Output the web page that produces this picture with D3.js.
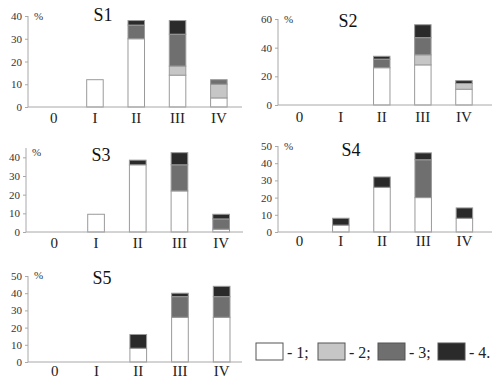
<!DOCTYPE html>
<html><head><meta charset="utf-8">
<script src="https://cdn.jsdelivr.net/npm/d3@7"></script>
<style>body{margin:0;background:#fff}svg{display:block}text{font-family:"Liberation Serif","Times New Roman",serif}</style>
</head><body><svg id="c" width="500" height="384"></svg>
<script>
const categories = ["0","I","II","III","IV"];
const panelNames = ["S1","S2","S3","S4","S5"];
const legendLabels = ["- 1;","- 2;","- 3;","- 4."];
const seriesColors = ["#ffffff","#c6c6c6","#6f6f6f","#2a2a2a"];
// series values per panel (c1..c4 stacked)
const S1_c1=[0,12,30,14,4], S1_c2=[0,0,0,4,6], S1_c3=[0,0,6,14,2], S1_c4=[0,0,2,6,0];
const S2_c1=[0,0,26,28,11], S2_c2=[0,0,0,7,4], S2_c3=[0,0,6,12,0], S2_c4=[0,0,2,9,2];
const S3_c1=[0,9.5,36,22,1.5], S3_c2=[0,0,0,0,0], S3_c3=[0,0,0,14,5.5], S3_c4=[0,0,2.5,6.5,2.5];
const S4_c1=[0,4,26,20,8], S4_c2=[0,0,0,0,0], S4_c3=[0,0,0,22,0], S4_c4=[0,4,6,4,6];
const S5_c1=[0,0,8,26,26], S5_c2=[0,0,0,0,0], S5_c3=[0,0,0,12,12], S5_c4=[0,0,8,2,6];
const S1_ticks=[0,10,20,30,40], S2_ticks=[0,20,40,60], S3_ticks=[0,10,20,30,40], S4_ticks=[0,10,20,30,40,50], S5_ticks=[0,10,20,30,40,50];
const yMax=[40,60,45,50,50];

const panelData=[
 {series:[S1_c1,S1_c2,S1_c3,S1_c4],ticks:S1_ticks},
 {series:[S2_c1,S2_c2,S2_c3,S2_c4],ticks:S2_ticks},
 {series:[S3_c1,S3_c2,S3_c3,S3_c4],ticks:S3_ticks},
 {series:[S4_c1,S4_c2,S4_c3,S4_c4],ticks:S4_ticks},
 {series:[S5_c1,S5_c2,S5_c3,S5_c4],ticks:S5_ticks}
];
// layout (pixels)
const layout=[
 {ax:28, axEnd:242, band:[33,239.5], y0:107, y1:16, titleX:103, titleY:21, pctY:20, labY:123},
 {ax:278, axEnd:492, band:[279,484.5], y0:105, y1:19, titleX:348, titleY:27, pctY:23, labY:122},
 {ax:26, axEnd:243, band:[33.5,242], y0:232, y1:148, titleX:101, titleY:161, pctY:156, labY:248},
 {ax:278, axEnd:492, band:[279,485], y0:232, y1:146, titleX:351, titleY:156, pctY:150, labY:246},
 {ax:28, axEnd:242, band:[34,242.5], y0:362, y1:276, titleX:102, titleY:284, pctY:279, labY:376}
];

const svg=d3.select("#c");
const axisCol="#a8a8a8", barStroke="#9a9a9a";

panelData.forEach((p,i)=>{
  const L=layout[i];
  const g=svg.append("g");
  const x=d3.scaleBand().domain(categories).range(L.band).paddingInner(0.6).paddingOuter(0.3);
  const y=d3.scaleLinear().domain([0,yMax[i]]).range([L.y0,L.y1]);
  const rows=categories.map((c,k)=>{const o={cat:c};p.series.forEach((s,j)=>o["s"+j]=s[k]);return o;});
  const stack=d3.stack().keys(["s0","s1","s2","s3"])(rows);
  stack.forEach((layer,j)=>{
    g.selectAll(null).data(layer.filter(d=>d[1]-d[0]>0)).enter().append("rect")
      .attr("x",d=>x(d.data.cat)).attr("width",x.bandwidth())
      .attr("y",d=>y(d[1])).attr("height",d=>y(d[0])-y(d[1]))
      .attr("fill",seriesColors[j]).attr("stroke",barStroke).attr("stroke-width",1);
  });
  // y axis
  const ya=g.append("g").attr("transform",`translate(${L.ax},0)`)
    .call(d3.axisLeft(y).tickValues(p.ticks).tickSize(3).tickPadding(3));
  ya.select(".domain").attr("stroke",axisCol).attr("d",`M0,${L.y0}V${L.y1}`);
  ya.selectAll(".tick line").attr("stroke",axisCol);
  ya.selectAll(".tick text").attr("font-size",11).attr("fill","#333").attr("font-family","Liberation Serif");
  // x axis
  g.append("line").attr("x1",L.ax).attr("x2",L.axEnd).attr("y1",L.y0).attr("y2",L.y0).attr("stroke",axisCol);
  g.selectAll(null).data(categories).enter().append("text")
    .attr("x",d=>x(d)+x.bandwidth()/2).attr("y",L.labY).attr("text-anchor","middle")
    .attr("font-size",15).attr("fill","#222").text(d=>d);
  g.append("text").attr("x",L.ax+6).attr("y",L.pctY).attr("font-size",11).attr("fill","#333").text("%");
  g.append("text").attr("x",L.titleX).attr("y",L.titleY).attr("text-anchor","middle")
    .attr("font-size",18).attr("fill","#111").text(panelNames[i]);
});

// legend
const legX=[256,318,378,438];
const lg=svg.append("g");
legendLabels.forEach((t,j)=>{
  lg.append("rect").attr("x",legX[j]).attr("y",343).attr("width",27).attr("height",17)
    .attr("fill",seriesColors[j]).attr("stroke","#555").attr("stroke-width",1);
  lg.append("text").attr("x",legX[j]+31).attr("y",358).attr("font-size",16).attr("fill","#222").text(t);
});
</script></body></html>
